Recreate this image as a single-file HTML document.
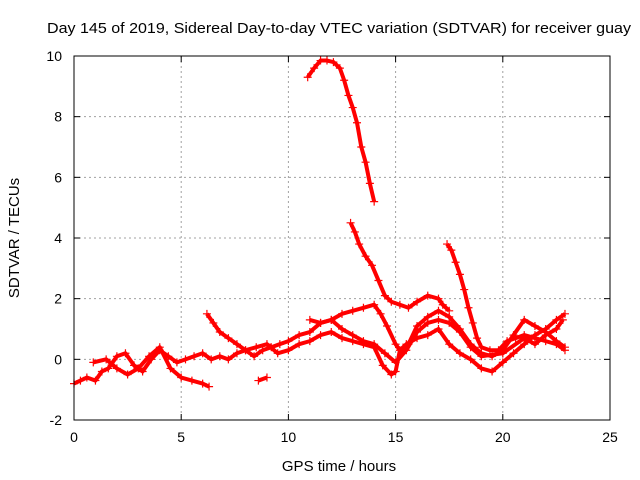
<!DOCTYPE html>
<html><head><meta charset="utf-8"><style>
body{margin:0;background:#fff;}
svg{display:block;font-family:"Liberation Sans",sans-serif;}
</style></head><body>
<svg id="chart" width="640" height="480">
<text x="339" y="33" text-anchor="middle" font-size="15" textLength="584" lengthAdjust="spacingAndGlyphs">Day 145 of 2019, Sidereal Day-to-day VTEC variation (SDTVAR) for receiver guay</text>
<text x="339" y="471" text-anchor="middle" font-size="15">GPS time / hours</text>
<text transform="translate(19,238) rotate(-90)" text-anchor="middle" font-size="15">SDTVAR / TECUs</text>
<g id="grid"></g><g id="ticks"></g><g id="series"></g>
<rect x="74" y="56" width="536" height="364" fill="none" stroke="#000"/>
</svg>
<script>
const xTicks=[0,5,10,15,20,25];
const yTicks=[-2,0,2,4,6,8,10];
const trackA=[[10.9,9.3],[11.2,9.6],[11.5,9.85],[11.8,9.85],[12.1,9.8],[12.4,9.6],[12.6,9.2],[12.8,8.7],[13.0,8.3],[13.2,7.8],[13.4,7.0],[13.6,6.5],[13.8,5.8],[14.0,5.2]];
const trackB=[[12.9,4.5],[13.1,4.2],[13.3,3.8],[13.6,3.4],[13.9,3.1],[14.2,2.6],[14.5,2.1],[14.8,1.9],[15.2,1.8],[15.6,1.7],[16.0,1.9],[16.5,2.1],[17.0,2.0],[17.2,1.8],[17.5,1.6]];
const trackC=[[17.4,3.8],[17.6,3.6],[17.8,3.2],[18.0,2.8],[18.2,2.3],[18.4,1.7],[18.6,1.2],[18.8,0.7],[19.0,0.4],[19.4,0.3],[19.8,0.3],[20.2,0.6],[20.6,0.7],[21,0.8],[21.5,0.7],[22,0.6],[22.5,0.5],[22.9,0.3]];
const trackD=[[0,-0.8],[0.3,-0.7],[0.6,-0.6],[1.0,-0.7],[1.3,-0.4],[1.6,-0.3],[2.0,0.1],[2.4,0.2],[2.8,-0.2],[3.2,-0.4],[3.6,0.0],[4.0,0.3],[4.4,0.1],[4.8,-0.1],[5.2,0.0],[5.6,0.1],[6.0,0.2],[6.4,0.0],[6.8,0.1],[7.2,0.0],[7.6,0.2],[8.0,0.3],[8.5,0.4],[9.0,0.5],[9.5,0.2],[10.0,0.3],[10.5,0.5],[11.0,0.6],[11.5,0.8],[12.0,0.9],[12.5,0.7],[13.0,0.6],[13.5,0.5],[14.0,0.4],[14.4,-0.2],[14.8,-0.5],[15.0,-0.4],[15.2,0.3],[15.5,0.5],[16,0.7],[16.5,0.8],[17,1.0],[17.5,0.5],[18,0.2],[18.5,0],[19,-0.3],[19.5,-0.4],[20,-0.1],[20.5,0.2],[21,0.5],[21.5,0.8],[22,1.0],[22.5,1.3],[22.9,1.5]];
const trackE=[[0.9,-0.1],[1.5,0.0],[2.0,-0.3],[2.5,-0.5],[3.0,-0.3],[3.5,0.1],[4.0,0.4],[4.5,-0.3],[5.0,-0.6],[5.5,-0.7],[6.0,-0.8],[6.3,-0.9]];
const trackF=[[6.2,1.5],[6.5,1.2],[6.8,0.9],[7.2,0.7],[7.6,0.5],[8.0,0.3],[8.4,0.1],[8.8,0.3],[9.2,0.4],[9.6,0.5],[10,0.6],[10.5,0.8],[11,0.9],[11.5,1.2],[12,1.3],[12.5,1.5],[13,1.6],[13.5,1.7],[14,1.8],[14.3,1.5],[14.6,1.1],[15,0.5],[15.3,0.2],[15.6,0.5],[16,1.1],[16.5,1.4],[17,1.6],[17.5,1.4],[18,1.0],[18.5,0.5],[19,0.2],[19.5,0.1],[20,0.3],[20.5,0.8],[21,1.3],[21.5,1.1],[22,0.9],[22.5,0.6],[22.9,0.4]];
const trackG=[[8.6,-0.7],[9.0,-0.6]];
const trackH=[[11.0,1.3],[11.5,1.2],[12,1.3],[12.5,1.0],[13,0.8],[13.5,0.6],[14,0.5],[14.5,0.2],[15,-0.1],[15.5,0.3],[16,0.9],[16.5,1.2],[17,1.3],[17.5,1.2],[18,0.9],[18.5,0.4],[19,0.1],[20,0.2],[21,0.7],[21.5,0.5],[22,0.8],[22.5,1.0],[22.8,1.3]];
const tracks=[trackA,trackB,trackC,trackD,trackE,trackF,trackG,trackH];
const NS='http://www.w3.org/2000/svg';
const X=v=>74+v*(536/25);
const Y=v=>420-(v+2)*(364/12);
function mk(t,a,p){const e=document.createElementNS(NS,t);for(const k in a)e.setAttribute(k,a[k]);p.appendChild(e);return e;}
const grid=document.getElementById('grid'),ticks=document.getElementById('ticks'),ser=document.getElementById('series');
xTicks.forEach(v=>{
 if(v>0&&v<25){const g=mk('line',{x1:X(v),x2:X(v),y1:56,y2:420,stroke:'#a0a0a0','stroke-dasharray':'2,3'},grid);
 
 }
 const t=mk('text',{x:X(v),y:442,'text-anchor':'middle','font-size':14},ticks);t.textContent=v;
 
 
 mk('line',{x1:X(v),x2:X(v),y1:420,y2:414,stroke:'#000'},ticks);mk('line',{x1:X(v),x2:X(v),y1:56,y2:62,stroke:'#000'},ticks);
});
yTicks.forEach(v=>{
 if(v>-2&&v<10){const g=mk('line',{x1:74,x2:610,y1:Y(v),y2:Y(v),stroke:'#a0a0a0','stroke-dasharray':'2,3'},grid);
 
 }
 const t=mk('text',{x:62,y:Y(v)+5,'text-anchor':'end','font-size':14},ticks);t.textContent=v;
 
 
 mk('line',{x1:74,x2:80,y1:Y(v),y2:Y(v),stroke:'#000'},ticks);mk('line',{x1:604,x2:610,y1:Y(v),y2:Y(v),stroke:'#000'},ticks);
});
tracks.forEach((tr,i)=>{
 const pl=mk('polyline',{points:tr.map(p=>X(p[0])+','+Y(p[1])).join(' '),fill:'none',stroke:'#ff0000','stroke-width':4,'stroke-linejoin':'round'},ser);
 
 
 tr.forEach(p=>{const x=X(p[0]),y=Y(p[1]);
  const m=mk('path',{d:`M${x-4},${y}h8M${x},${y-4}v8`,stroke:'#ff0000','stroke-width':1.2},ser);
  
  
 });
});
</script>
</body></html>
